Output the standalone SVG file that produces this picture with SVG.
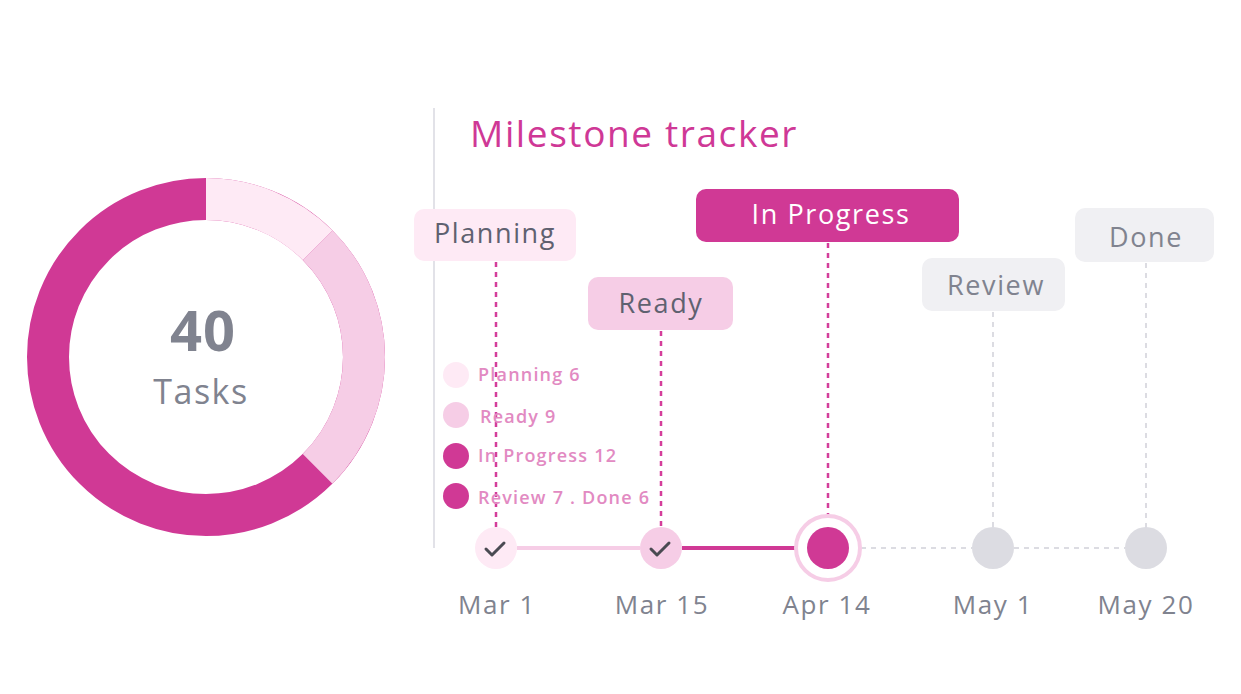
<svg xmlns="http://www.w3.org/2000/svg" width="1241" height="694" viewBox="0 0 1241 694">
<style>
text{font-family:"Open Sans","Noto Sans",sans-serif}
.lbl{font-size:27px;fill:#5f6170;text-anchor:middle;letter-spacing:1.6px}
.date{font-size:26px;fill:#80838f;text-anchor:middle;letter-spacing:1.6px}
.leg{font-size:18px;fill:#e28ac2;font-weight:600;letter-spacing:1.2px}
.dash{stroke:#d43d9a;stroke-width:2.5;stroke-dasharray:5 5;fill:none}
.gdash{stroke:#dcdce2;stroke-width:2;stroke-dasharray:5 5;fill:none}
.chk{fill:none;stroke:#4a4a52;stroke-width:3;stroke-linecap:round;stroke-linejoin:round}
</style>
<rect width="1241" height="694" fill="#fff"/>
<g id="donut" transform="rotate(-90 206 357)">
<circle cx="206" cy="357" r="158" fill="none" stroke="#d03995" stroke-width="42"/>
<circle cx="206" cy="357" r="158" fill="none" stroke="#feeaf5" stroke-width="42" stroke-dasharray="124.1 900"/>
<circle cx="206" cy="357" r="158" fill="none" stroke="#f6cde6" stroke-width="42" stroke-dasharray="0 124.1 248.2 900"/>
</g>
<g id="center-label">
<text x="203" y="351" font-size="56" font-weight="700" fill="#80838f" text-anchor="middle" letter-spacing="1">40</text>
<text x="201" y="404" font-size="34" fill="#80838f" text-anchor="middle" letter-spacing="1.5">Tasks</text>
</g>
<line x1="434" y1="108" x2="434" y2="548" stroke="#e2e2e8" stroke-width="2"/>
<text x="470" y="147" font-size="37" fill="#cf3896" letter-spacing="1.6">Milestone tracker</text>
<g id="connectors">
<line class="dash" x1="496" y1="262" x2="496" y2="528"/>
<line class="dash" x1="661" y1="331" x2="661" y2="528"/>
<line class="dash" x1="828" y1="243" x2="828" y2="515"/>
<line class="gdash" x1="993" y1="312" x2="993" y2="528"/>
<line class="gdash" x1="1146" y1="263" x2="1146" y2="528"/>
<line x1="517" y1="548" x2="640" y2="548" stroke="#f6cde6" stroke-width="4"/>
<line x1="682" y1="548" x2="795" y2="548" stroke="#d03995" stroke-width="4"/>
<line class="gdash" x1="861" y1="548" x2="972" y2="548"/>
<line class="gdash" x1="1014" y1="548" x2="1125" y2="548"/>
</g>
<g id="legend">
<circle cx="456" cy="375" r="13" fill="#feeaf5"/><text class="leg" x="478" y="381">Planning 6</text>
<circle cx="456" cy="415" r="13" fill="#f6cde6"/><text class="leg" x="480" y="423">Ready 9</text>
<circle cx="456" cy="456" r="13" fill="#d03995"/><text class="leg" x="478" y="462">In Progress 12</text>
<circle cx="456" cy="496" r="13" fill="#d03995"/><text class="leg" x="478" y="504">Review 7 . Done 6</text>
</g>
<g id="planning">
<rect x="414" y="209" width="162" height="52" rx="10" fill="#feeaf5"/>
<text class="lbl" x="495" y="243">Planning</text>
<circle cx="496" cy="548" r="21" fill="#feeaf5"/>
<path class="chk" d="M486 549 l6 6 l12 -12"/>
<text class="date" x="497" y="614">Mar 1</text>
</g>
<g id="ready">
<rect x="588" y="277" width="145" height="53" rx="10" fill="#f6cde6"/>
<text class="lbl" x="661" y="313">Ready</text>
<circle cx="661" cy="548" r="21" fill="#f6cde6"/>
<path class="chk" d="M651 549 l6 6 l12 -12"/>
<text class="date" x="662" y="614">Mar 15</text>
</g>
<g id="inprogress">
<rect x="696" y="189" width="263" height="53" rx="10" fill="#d03995"/>
<text class="lbl" x="831" y="224" style="fill:#fff">In Progress</text>
<circle cx="828" cy="548" r="32" fill="#fff" stroke="#f6cde6" stroke-width="4"/>
<circle cx="828" cy="548" r="21" fill="#d03995"/>
<text class="date" x="827" y="614">Apr 14</text>
</g>
<g id="review">
<rect x="922" y="258" width="143" height="53" rx="10" fill="#f0f0f3"/>
<text class="lbl" x="996" y="295" style="fill:#80838f">Review</text>
<circle cx="993" cy="548" r="21" fill="#dcdce2"/>
<text class="date" x="993" y="614">May 1</text>
</g>
<g id="done">
<rect x="1075" y="208" width="139" height="54" rx="10" fill="#f0f0f3"/>
<text class="lbl" x="1146" y="247" style="fill:#80838f">Done</text>
<circle cx="1146" cy="548" r="21" fill="#dcdce2"/>
<text class="date" x="1146" y="614">May 20</text>
</g>
</svg>
